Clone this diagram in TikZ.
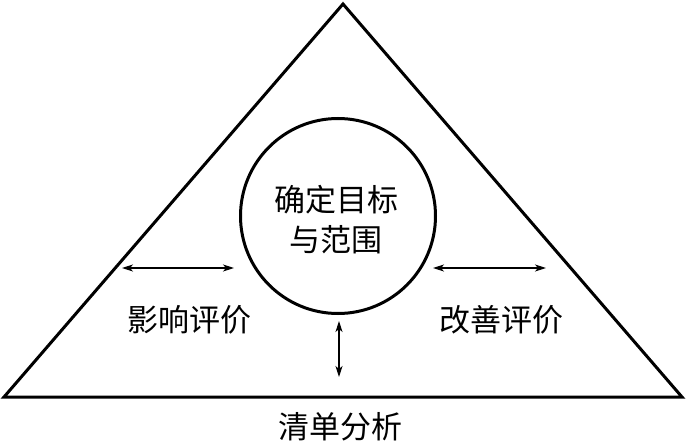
\documentclass[tikz,border=0pt]{standalone}
\usepackage{fontspec}
\newfontfamily\cjk{Noto Sans CJK SC}
\usetikzlibrary{arrows.meta}
\tikzset{
  frame/.style={line width=3pt, line join=miter},
  ring/.style={circle, draw, line width=3pt, minimum size=195pt, inner sep=0pt},
  lbl/.style={font=\cjk\fontsize{31}{40}\selectfont, align=center, inner sep=0pt},
  link/.style={line width=1.2pt, {Stealth[length=11pt,width=7pt,inset=3pt]}-{Stealth[length=11pt,width=7pt,inset=3pt]}}
}
\begin{document}
\begin{tikzpicture}[x=1pt,y=-1pt]
\useasboundingbox (0,0) rectangle (686,444);
\coordinate (A) at (343,4);
\coordinate (B) at (4,397);
\coordinate (C) at (682,397);
\draw[frame] (A) -- (B) -- (C) -- cycle;
\node[ring] (goal) at (338,216) {};
\node[lbl] (goaltxt) at (336,220) {确定目标\\与范围};
\node[lbl] (impact) at (189,320) {影响评价};
\node[lbl] (improve) at (501,320) {改善评价};
\node[lbl] (inventory) at (340,427) {清单分析};
\coordinate (l1) at (122,268);
\coordinate (l2) at (234,268);
\coordinate (r1) at (433,268);
\coordinate (r2) at (546,268);
\coordinate (v1) at (339,321);
\coordinate (v2) at (339,377);
\draw[link] (l1) -- (l2);
\draw[link] (r1) -- (r2);
\draw[link] (v1) -- (v2);
\end{tikzpicture}
\end{document}
